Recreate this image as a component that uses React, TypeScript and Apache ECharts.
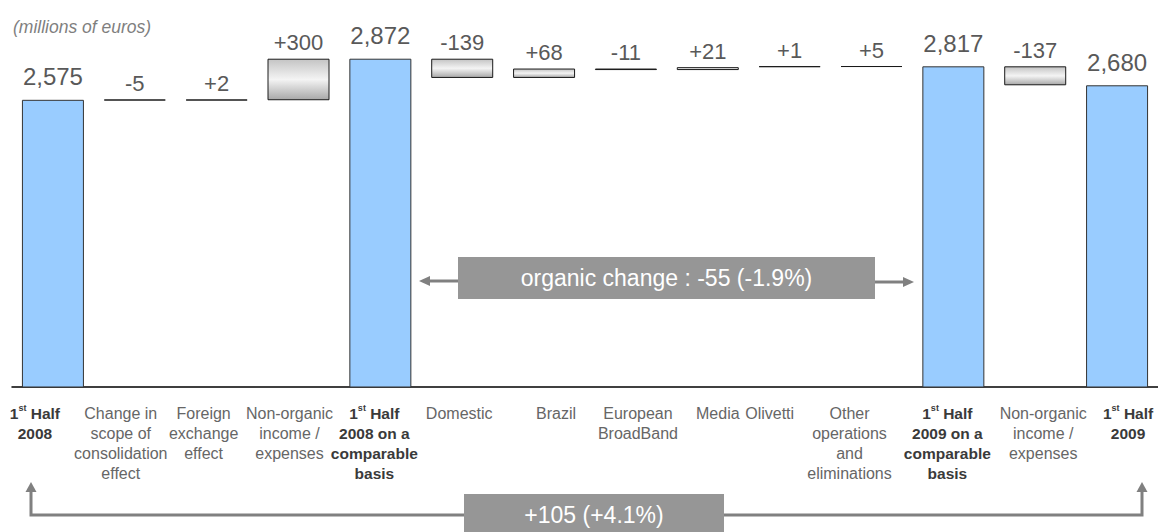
import React, { useEffect, useRef } from "react";
import * as echarts from "echarts";

// ---- data ----
const categories: string[] = [
  "1st Half\n2008",
  "Change in\nscope of\nconsolidation\neffect",
  "Foreign\nexchange\neffect",
  "Non-organic\nincome /\nexpenses",
  "1st Half\n2008 on a\ncomparable\nbasis",
  "Domestic",
  "Brazil",
  "European\nBroadBand",
  "Media",
  "Olivetti",
  "Other\noperations\nand\neliminations",
  "1st Half\n2009 on a\ncomparable\nbasis",
  "Non-organic\nincome /\nexpenses",
  "1st Half\n2009",
];
const isTotal: boolean[] = [true, false, false, false, true, false, false, false, false, false, false, true, false, true];
const values: number[] = [2575, -5, 2, 300, 2872, -139, 68, -11, 21, 1, 5, 2817, -137, 2680];
const unitNote = "(millions of euros)";
const organicNote = "organic change : -55 (-1.9%)";
const totalNote = "+105 (+4.1%)";

// layout tweak: horizontal offset of each category label (px)
const labelShift: number[] = [-18, -14, -13, -9, -6, -3, 12, 12, 10, -20, -22, -6, 8, 11];

// ---- derived waterfall series ----
const baseData: (number | string)[] = [];
const deltaData: (number | string)[] = [];
const totalData: (number | string)[] = [];
{
  let run = 0;
  values.forEach((v, i) => {
    if (isTotal[i]) {
      run = v;
      baseData.push(0);
      deltaData.push("-");
      totalData.push(v);
    } else {
      const next = run + v;
      baseData.push(Math.min(run, next));
      deltaData.push(Math.abs(v));
      totalData.push("-");
      run = next;
    }
  });
}

const fmtTotal = (v: number) => v.toLocaleString("en-US");
const fmtDelta = (v: number) => (v > 0 ? "+" + v : String(v));

const FONT = '"Liberation Sans", Arial, sans-serif';

function richLabel(label: string, idx: number): string {
  return label
    .split("\n")
    .map((line) => {
      if (isTotal[idx]) {
        const m = line.match(/^1st(.*)$/);
        if (m) return `{b|1}{sup|st}{b|${m[1]}}`;
        return `{b|${line}}`;
      }
      return `{n|${line}}`;
    })
    .join("\n");
}

export default function App() {
  const ref = useRef<HTMLDivElement>(null);
  useEffect(() => {
    if (!ref.current) return;
    const chart = echarts.init(ref.current, undefined, { renderer: "svg" });
    const arrowColor = "#808080";
    const boxColor = "#969696";
    chart.setOption({
      animation: false,
      grid: { left: 12, right: 0, top: 41, bottom: 145, containLabel: false },
      xAxis: {
        type: "category",
        data: categories.map((c, i) => {
          const s = labelShift[i];
          return {
            value: c,
            textStyle: { padding: s < 0 ? [0, -2 * s, 0, 0] : [0, 0, 0, 2 * s] },
          };
        }),
        axisLine: { show: true, lineStyle: { color: "#000", width: 1.5 } },
        axisTick: { show: false },
        axisLabel: {
          interval: 0,
          margin: 16,
          fontFamily: FONT,
          formatter: (val: string, idx: number) => richLabel(val, idx),
          rich: {
            n: { fontSize: 16, lineHeight: 20, color: "#666666", fontFamily: FONT },
            b: { fontSize: 15.5, lineHeight: 20, color: "#3a3a3a", fontWeight: "bold", fontFamily: FONT },
            sup: { fontSize: 9, lineHeight: 16, color: "#3a3a3a", fontWeight: "bold", verticalAlign: "top", fontFamily: FONT },
          },
        },
      },
      yAxis: {
        type: "value",
        min: 500,
        max: 3000,
        show: false,
        splitLine: { show: false },
      },
      series: [
        {
          name: "base",
          type: "bar",
          stack: "wf",
          barWidth: 62,
          data: baseData,
          itemStyle: { color: "transparent", borderWidth: 0 },
          emphasis: { disabled: true },
          silent: true,
        },
        {
          name: "delta",
          type: "bar",
          stack: "wf",
          barWidth: 62,
          barMinHeight: 1,
          data: deltaData,
          itemStyle: {
            color: new echarts.graphic.LinearGradient(0, 0, 0, 1, [
              { offset: 0, color: "#c4c4c4" },
              { offset: 0.5, color: "#f4f4f4" },
              { offset: 1, color: "#a8a8a8" },
            ]),
            borderColor: "#1a1a1a",
            borderWidth: 1,
          },
          label: {
            show: true,
            position: "top",
            distance: 5,
            fontSize: 22,
            fontFamily: FONT,
            color: "#595959",
            formatter: (p: any) => fmtDelta(values[p.dataIndex]),
          },
        },
        {
          name: "total",
          type: "bar",
          stack: "wf",
          barWidth: 62,
          data: totalData,
          itemStyle: { color: "#99CCFF", borderColor: "#333333", borderWidth: 1 },
          label: {
            show: true,
            position: "top",
            distance: 11,
            fontSize: 24,
            fontFamily: FONT,
            color: "#595959",
            formatter: (p: any) => fmtTotal(values[p.dataIndex]),
          },
        },
      ],
      graphic: [
        {
          type: "text",
          left: 13,
          top: 18,
          style: { text: unitNote, fill: "#7f7f7f", font: `italic 17.5px ${FONT}` },
        },
        // organic change annotation
        { type: "line", shape: { x1: 428, y1: 281, x2: 458, y2: 281 }, style: { stroke: arrowColor, lineWidth: 3 } },
        { type: "polygon", shape: { points: [[419, 281], [430, 276], [430, 286]] }, style: { fill: arrowColor } },
        { type: "line", shape: { x1: 875, y1: 282, x2: 905, y2: 282 }, style: { stroke: arrowColor, lineWidth: 3 } },
        { type: "polygon", shape: { points: [[914, 282], [903, 277], [903, 287]] }, style: { fill: arrowColor } },
        { type: "rect", shape: { x: 458, y: 257, width: 417, height: 42 }, style: { fill: boxColor } },
        {
          type: "text",
          x: 666.5,
          y: 278,
          style: {
            text: organicNote,
            fill: "#ffffff",
            font: `23px ${FONT}`,
            align: "center",
            verticalAlign: "middle",
            textAlign: "center",
            textVerticalAlign: "middle",
          },
        },
        // overall change annotation
        { type: "polyline", shape: { points: [[31, 490], [31, 515], [464, 515]] }, style: { stroke: arrowColor, lineWidth: 3, fill: "none" } },
        { type: "polygon", shape: { points: [[31, 482], [25.5, 492], [36.5, 492]] }, style: { fill: arrowColor } },
        { type: "polyline", shape: { points: [[724, 515], [1142, 515], [1142, 490]] }, style: { stroke: arrowColor, lineWidth: 3, fill: "none" } },
        { type: "polygon", shape: { points: [[1142, 482], [1136.5, 492], [1147.5, 492]] }, style: { fill: arrowColor } },
        { type: "rect", shape: { x: 464, y: 494, width: 260, height: 40 }, style: { fill: boxColor } },
        {
          type: "text",
          x: 594,
          y: 515,
          style: {
            text: totalNote,
            fill: "#ffffff",
            font: `23px ${FONT}`,
            align: "center",
            verticalAlign: "middle",
            textAlign: "center",
            textVerticalAlign: "middle",
          },
        },
      ],
    });
    return () => chart.dispose();
  }, []);
  return (
    <div
      ref={ref}
      style={{ position: "absolute", left: 0, top: 0, width: 1158, height: 532, background: "#fff" }}
    />
  );
}
